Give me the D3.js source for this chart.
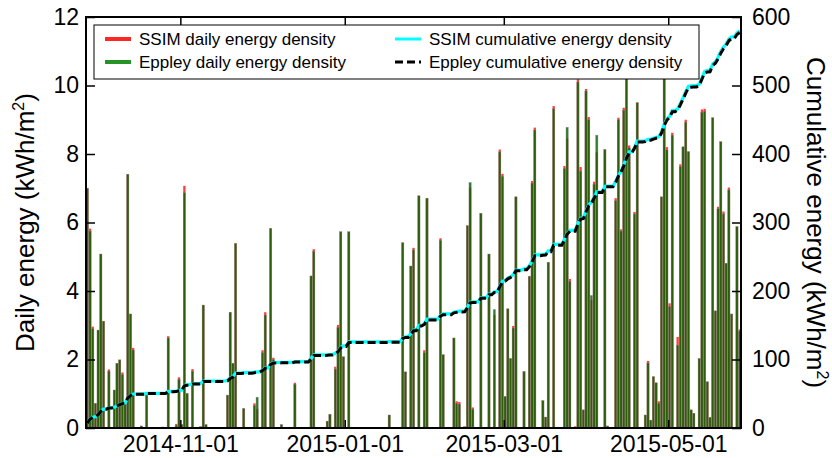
<!DOCTYPE html>
<html><head><meta charset="utf-8">
<script src="https://cdn.jsdelivr.net/npm/d3@7"></script>
<style>
body{margin:0;background:#fff}
svg{display:block}
text{font-family:"Liberation Sans",Arial,Helvetica,sans-serif;fill:#000}
</style>
</head><body>
<svg id="c" width="832" height="458"></svg>
<script>
// ---------------- data ----------------
const startDate = "2014-09-27";
const endDate = "2015-05-28";

const eppleyDaily = [
  7.0, 5.75, 2.9, 0.72, 2.86, 5.08, 3.12, 0, 1.66, 0,
  1.11, 1.89, 1.99, 1.56, 0.7, 7.41, 3.33, 2.28, 0, 0,
  0.06, 0, 0.96, 0, 0, 0, 0, 0, 0.03, 0,
  2.63, 0, 0, 0.08, 1.42, 0.1, 6.87, 1.01, 0, 1.66,
  0, 0, 0.04, 3.59, 0.1, 0, 0, 0, 0, 0,
  0, 0, 0.96, 3.38, 1.89, 5.39, 0, 0, 0.57, 0,
  0, 0, 0.66, 0.9, 0, 2.2, 3.3, 0, 5.83, 2.0,
  0, 0, 0.1, 0, 0, 0, 0, 1.28, 0, 0,
  0, 0, 0, 4.44, 5.16, 0, 0, 0, 0, 0.2,
  0.4, 0, 1.72, 2.94, 5.73, 2.08, 0, 5.73, 0, 0,
  0, 0, 0, 0, 0, 0, 0, 0, 0, 0,
  0, 0, 0.38, 0, 0, 0, 0, 5.41, 1.64, 0,
  4.73, 5.2, 0, 6.78, 0, 2.2, 6.71, 0, 0, 0,
  0, 5.48, 2.14, 0, 0, 0, 2.63, 0.72, 0.7, 0,
  0.04, 5.91, 7.17, 0.55, 0, 0, 6.27, 0, 0, 5.08,
  0, 3.46, 0, 8.06, 7.35, 0.92, 3.48, 2.03, 2.92, 6.75,
  0, 0, 1.65, 0, 4.43, 7.15, 8.7, 0, 0, 0.8,
  0.32, 4.84, 0, 9.32, 0, 0, 0, 7.58, 8.78, 4.28,
  0, 0.02, 10.1, 7.5, 0.53, 9.84, 9.0, 3.87, 7.12, 8.55,
  0, 0, 8.13, 0.06, 0, 0, 6.64, 9.0, 5.75, 9.28,
  11.0, 8.18, 0, 6.25, 9.5, 0, 0, 0.38, 1.9, 0.23,
  1.5, 1.32, 0.72, 6.75, 11.0, 8.12, 3.55, 8.55, 0, 2.42,
  7.63, 8.21, 8.93, 8.07, 0.53, 0.43, 0, 2.03, 9.22, 9.25,
  1.35, 0.31, 9.06, 3.42, 6.4, 8.36, 6.25, 4.81, 6.95, 3.33,
  0, 5.88, 2.83
];

const ssimDaily = [
  7.0, 5.82, 2.96, 0.72, 2.86, 5.08, 3.12, 0, 1.71, 0,
  1.11, 1.89, 1.99, 1.62, 0.7, 7.41, 3.33, 2.34, 0, 0,
  0.06, 0, 0.96, 0, 0, 0, 0, 0, 0.03, 0,
  2.68, 0, 0, 0.12, 1.48, 0.1, 7.07, 1.01, 0, 1.72,
  0, 0, 0.04, 3.59, 0.1, 0, 0, 0, 0, 0,
  0, 0, 0.96, 3.38, 1.89, 5.39, 0, 0, 0.57, 0,
  0, 0, 0.72, 0.55, 0, 2.27, 3.38, 0, 5.83, 2.05,
  0, 0, 0.1, 0, 0, 0, 0, 1.32, 0, 0,
  0, 0, 0, 4.44, 5.22, 0, 0, 0, 0, 0.2,
  0.4, 0, 1.79, 3.01, 5.73, 2.08, 0, 5.73, 0, 0,
  0, 0, 0, 0, 0, 0, 0, 0, 0, 0,
  0, 0, 0.38, 0, 0, 0, 0, 5.41, 1.64, 0,
  4.73, 5.26, 0, 6.78, 0, 2.27, 6.71, 0, 0, 0,
  0, 5.54, 2.14, 0, 0, 0, 2.63, 0.78, 0.76, 0,
  0.04, 5.91, 7.02, 0.6, 0, 0, 6.27, 0, 0, 5.08,
  0, 3.3, 0, 8.13, 7.42, 0.92, 3.48, 2.03, 2.98, 6.75,
  0, 0, 1.65, 0, 4.43, 7.21, 8.77, 0, 0, 0.8,
  0.32, 4.84, 0, 9.4, 0, 0, 0, 7.65, 8.45, 4.35,
  0, 0.05, 10.18, 7.62, 0.53, 9.9, 9.08, 3.73, 7.19, 8.05,
  0, 0, 8.13, 0.06, 0, 0, 6.71, 9.06, 5.8, 9.35,
  11.0, 8.25, 0, 6.31, 9.5, 0, 0, 0.38, 1.96, 0.23,
  1.5, 1.32, 0.78, 6.75, 11.0, 8.2, 3.64, 8.62, 0, 2.66,
  7.7, 8.21, 9.0, 8.07, 0.53, 0.43, 0, 2.03, 9.3, 9.32,
  1.35, 0.31, 9.06, 3.42, 6.46, 8.36, 6.32, 4.81, 7.02, 3.33,
  0, 5.88, 2.88
];

const xTickLabels = ["2014-11-01", "2015-01-01", "2015-03-01", "2015-05-01"];
const leftTicks = [0, 2, 4, 6, 8, 10, 12];
const rightTicks = [0, 100, 200, 300, 400, 500, 600];
const legendLabels = ["SSIM daily energy density", "Eppley daily energy density",
                      "SSIM cumulative energy density", "Eppley cumulative energy density"];
const leftTitle = "Daily energy (kWh/m";
const rightTitle = "Cumulative energy (kWh/m";

// ---------------- drawing ----------------
const svg = d3.select("#c");
const P = {l: 86, r: 741, t: 17, b: 428};
const parse = d3.utcParse("%Y-%m-%d");
const t0 = parse(startDate);
const dates = eppleyDaily.map((_, i) => d3.utcDay.offset(t0, i));

const x = d3.scaleUtc().domain([t0, parse(endDate)]).range([P.l, P.r]);
const yL = d3.scaleLinear().domain([0, 12]).range([P.b, P.t]);
const yR = d3.scaleLinear().domain([0, 600]).range([P.b, P.t]);

const cumE = Array.from(d3.cumsum(eppleyDaily));
const cumS = Array.from(d3.cumsum(ssimDaily));

svg.append("defs").append("clipPath").attr("id", "clip")
  .append("rect").attr("x", P.l).attr("y", P.t).attr("width", P.r - P.l).attr("height", P.b - P.t);

const bw = 2.3;
const cx = i => x(d3.utcHour.offset(dates[i], 12));
const plot = svg.append("g").attr("clip-path", "url(#clip)");

plot.append("g").selectAll("rect").data(ssimDaily).join("rect")
  .attr("x", (d, i) => cx(i) - bw / 2).attr("width", bw)
  .attr("y", d => yL(d)).attr("height", d => yL(0) - yL(d))
  .attr("fill", "#ff1a1a").attr("fill-opacity", 0.85);

plot.append("g").selectAll("rect").data(eppleyDaily).join("rect")
  .attr("x", (d, i) => cx(i) - bw / 2).attr("width", bw)
  .attr("y", d => yL(d)).attr("height", d => yL(0) - yL(d))
  .attr("fill", "#006400").attr("fill-opacity", 0.82)
  .attr("stroke", "#8c8c8c").attr("stroke-width", 0.45).attr("stroke-opacity", 0.8);

const line = d3.line().x((d, i) => cx(i)).y(d => yR(d));
plot.append("path").datum(cumS).attr("d", line)
  .attr("fill", "none").attr("stroke", "#00ffff").attr("stroke-width", 3.2);
plot.append("path").datum(cumE).attr("d", line)
  .attr("fill", "none").attr("stroke", "#000").attr("stroke-width", 3)
  .attr("stroke-dasharray", "8,4");

// axes
const fs = 23;
const xTicks = xTickLabels.map(parse);
const gB = svg.append("g").attr("transform", `translate(0,${P.b})`)
  .call(d3.axisBottom(x).tickValues(xTicks).tickSize(-8).tickPadding(8)
        .tickFormat(d3.utcFormat("%Y-%m-%d")));
const gT = svg.append("g").attr("transform", `translate(0,${P.t})`)
  .call(d3.axisTop(x).tickValues(xTicks).tickSize(-8).tickFormat(""));
const gL = svg.append("g").attr("transform", `translate(${P.l},0)`)
  .call(d3.axisLeft(yL).tickValues(leftTicks).tickSize(-9).tickPadding(7).tickFormat(d3.format("d")));
const gR = svg.append("g").attr("transform", `translate(${P.r},0)`)
  .call(d3.axisRight(yR).tickValues(rightTicks).tickSize(-9).tickPadding(11).tickFormat(d3.format("d")));
[gB, gT, gL, gR].forEach(g => {
  g.select(".domain").remove();
  g.selectAll(".tick line").attr("stroke", "#000").attr("stroke-width", 1.5);
  g.selectAll(".tick text").attr("font-size", fs).attr("font-family", null).attr("fill", "#000");
});

svg.append("rect").attr("x", P.l).attr("y", P.t).attr("width", P.r - P.l).attr("height", P.b - P.t)
  .attr("fill", "none").attr("stroke", "#000").attr("stroke-width", 2);

// titles
const tfs = 26;
const tl = svg.append("text").attr("transform", `translate(34,${(P.t + P.b) / 2}) rotate(-90)`)
  .attr("text-anchor", "middle").attr("font-size", tfs);
tl.append("tspan").text(leftTitle);
tl.append("tspan").attr("font-size", 16).attr("dy", -10).text("2");
tl.append("tspan").attr("dy", 10).text(")");

const tr = svg.append("text").attr("transform", `translate(807,${(P.t + P.b) / 2}) rotate(90)`)
  .attr("text-anchor", "middle").attr("font-size", tfs);
tr.append("tspan").text(rightTitle);
tr.append("tspan").attr("font-size", 16).attr("dy", -10).text("2");
tr.append("tspan").attr("dy", 10).text(")");

// legend
const lg = svg.append("g");
lg.append("rect").attr("x", 94).attr("y", 25).attr("width", 605).attr("height", 54)
  .attr("fill", "#fff").attr("stroke", "#000").attr("stroke-width", 1);
const items = [
  {x: 105, y: 39, color: "#ff0000", op: 0.85, w: 4, dash: null},
  {x: 105, y: 62, color: "#008000", op: 0.85, w: 4, dash: null},
  {x: 395, y: 39, color: "#00ffff", op: 1, w: 3, dash: null},
  {x: 395, y: 62, color: "#000000", op: 1, w: 3, dash: "8,4"}
];
items.forEach((it, i) => {
  lg.append("line").attr("x1", it.x).attr("x2", it.x + 26).attr("y1", it.y).attr("y2", it.y)
    .attr("stroke", it.color).attr("stroke-opacity", it.op).attr("stroke-width", it.w)
    .attr("stroke-dasharray", it.dash);
  lg.append("text").attr("x", it.x + 34).attr("y", it.y).attr("dy", "0.35em")
    .attr("font-size", 17).text(legendLabels[i]);
});
</script>
</body></html>
